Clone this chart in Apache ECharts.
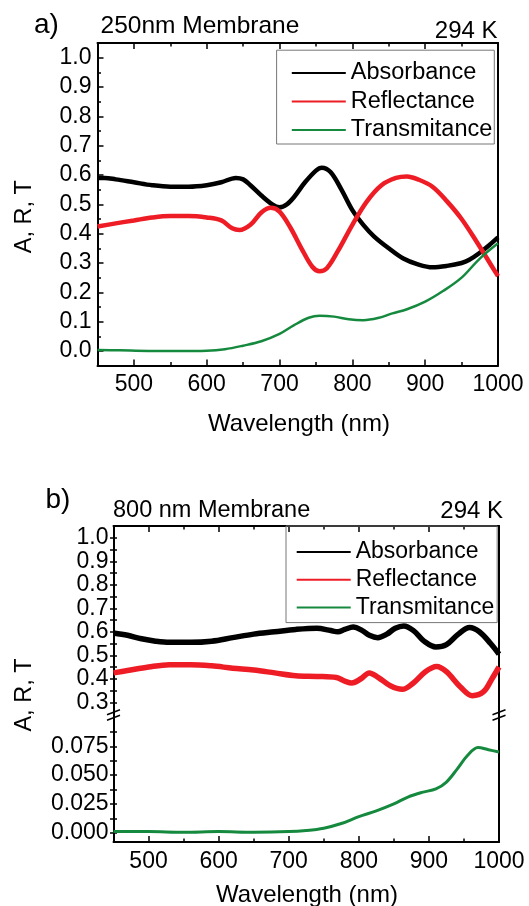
<!DOCTYPE html>
<html>
<head>
<meta charset="utf-8">
<script src="https://cdn.jsdelivr.net/npm/echarts@6/dist/echarts.min.js"></script>
<style>
html,body{margin:0;padding:0;background:#fff;}
#chart{width:529px;height:906px;}
</style>
</head>
<body>
<div id="chart"></div>
<script>
// ---------------- DATA ----------------
// Panel a) 250nm membrane
const wlAbsA   = [450,460,475,500,525,550,575,600,620,640,650,660,675,690,700,710,720,735,750,758,770,785,800,815,830,850,870,890,910,930,950,960,975,990,1000];
const absA     = [0.59,0.59,0.585,0.575,0.565,0.56,0.56,0.565,0.575,0.59,0.585,0.565,0.53,0.50,0.49,0.50,0.525,0.575,0.615,0.625,0.61,0.55,0.48,0.43,0.39,0.35,0.315,0.295,0.285,0.29,0.30,0.31,0.335,0.365,0.387];
const wlRefA   = [450,475,500,525,550,575,600,620,635,645,660,675,688,700,715,730,745,755,765,780,800,820,840,860,875,890,910,930,950,970,985,1000];
const refA     = [0.424,0.435,0.445,0.455,0.46,0.46,0.455,0.445,0.418,0.412,0.43,0.472,0.488,0.475,0.42,0.35,0.287,0.272,0.282,0.34,0.43,0.51,0.565,0.59,0.595,0.585,0.56,0.51,0.45,0.375,0.315,0.255];
const wlTraA   = [450,480,520,560,600,625,650,675,700,720,740,755,775,795,815,835,855,875,900,925,950,975,1000];
const traA     = [0.003,0.002,0.0,0.0,0.001,0.006,0.018,0.033,0.058,0.088,0.113,0.12,0.117,0.108,0.105,0.112,0.128,0.142,0.168,0.205,0.25,0.315,0.367];
// Panel b) 800 nm membrane
const wlAbsB   = [450,470,490,510,530,560,590,620,650,680,710,740,760,770,780,792,805,815,827,840,852,864,878,893,910,925,942,958,972,988,1000];
const absB     = [0.595,0.585,0.57,0.56,0.555,0.555,0.56,0.575,0.59,0.60,0.61,0.615,0.605,0.60,0.61,0.62,0.605,0.585,0.575,0.59,0.615,0.625,0.605,0.56,0.535,0.545,0.59,0.618,0.60,0.55,0.505];
const wlRefB   = [450,470,500,530,560,590,620,650,680,710,740,768,780,790,803,815,828,845,862,877,895,911,925,945,962,978,990,1000];
const refB     = [0.425,0.435,0.45,0.46,0.46,0.455,0.445,0.437,0.425,0.413,0.41,0.405,0.39,0.382,0.40,0.425,0.405,0.37,0.355,0.38,0.43,0.452,0.43,0.365,0.328,0.345,0.40,0.45];
const wlTraB   = [450,500,550,600,650,700,725,750,775,800,825,850,870,890,910,925,940,955,970,985,1000];
const traB     = [0.001,0.001,0.0005,0.001,0.0005,0.001,0.002,0.004,0.008,0.014,0.019,0.025,0.031,0.035,0.038,0.044,0.055,0.067,0.074,0.072,0.07];
// Tick values
const xMajor   = [500,600,700,800,900,1000];
const xMinor   = [550,650,750,850,950];
const yMajorA  = [0.0,0.1,0.2,0.3,0.4,0.5,0.6,0.7,0.8,0.9,1.0];
const yMinorA  = [0.05,0.15,0.25,0.35,0.45,0.55,0.65,0.75,0.85,0.95];
const yMajorB  = [0.3,0.4,0.5,0.6,0.7,0.8,0.9,1.0];
const yAllB    = [0.3,0.35,0.4,0.45,0.5,0.55,0.6,0.65,0.7,0.75,0.8,0.85,0.9,0.95,1.0];
const yMajorB2 = [0.0,0.025,0.05,0.075];
const yAllB2   = [0.0,0.0125,0.025,0.0375,0.05,0.0625,0.075,0.0875];
const seriesNames = ['Absorbance','Reflectance','Transmitance'];

// ---------------- LAYOUT ----------------
const FONT = '"Liberation Sans", Arial, Helvetica, sans-serif';
const G0 = {left:97.5, top:43, width:400.5, height:322.6};
const G1 = {left:113.5, top:526, width:385.5, height:188};
const G2 = {left:113.5, top:714, width:385.5, height:128};
const COLORS = ['#000000','#ee1c25','#158a3e'];

const lineSt = {color:'#000', width:2};
const tickSt = {color:'#000', width:1.5};
const lblSt = (fmt, margin) => ({fontFamily:FONT, fontSize:23, color:'#000', margin:margin, formatter:fmt});

function xAx(grid, pos, ticks, len, showLine, labels) {
  return {
    type:'value', gridIndex:grid, position:pos, min:450, max:1000,
    axisLine:{show:showLine, onZero:false, lineStyle:lineSt},
    axisTick:{show:true, inside:true, length:len, customValues:ticks, lineStyle:tickSt},
    axisLabel: labels ? Object.assign({show:true, customValues:ticks}, lblSt(v => String(Math.round(v)), 8)) : {show:false},
    splitLine:{show:false}
  };
}
function yAx(grid, pos, min, max, ticks, len, inside, showLine, labels, dec, margin) {
  return {
    type:'value', gridIndex:grid, position:pos, min:min, max:max,
    axisLine:{show:showLine, onZero:false, lineStyle:lineSt},
    axisTick:{show:ticks !== null, inside:inside, length:len, customValues:ticks || [], lineStyle:tickSt},
    axisLabel: labels ? Object.assign({show:true, customValues:labels}, lblSt(v => v.toFixed(dec), margin)) : {show:false},
    splitLine:{show:false}
  };
}

const xAxis = [
  xAx(0,'bottom',xMajor,6,true,true),   // 0
  xAx(0,'bottom',xMinor,3.5,false,false),
  xAx(0,'top',xMajor,6,true,false),
  xAx(0,'top',xMinor,3.5,false,false),
  xAx(1,'top',xMajor,6,true,false),     // 4
  xAx(1,'top',xMinor,3.5,false,false),
  xAx(2,'bottom',xMajor,6,true,true),   // 6
  xAx(2,'bottom',xMinor,3.5,false,false)
];
const yAxis = [
  yAx(0,'left',-0.05,1.05,yMajorA,6,true,true,yMajorA,1,6),     // 0
  yAx(0,'left',-0.05,1.05,yMinorA,3.5,true,false,null),
  yAx(0,'right',-0.05,1.05,null,0,true,true,null),
  yAx(1,'left',0.25,1.05,yAllB,3.5,true,true,yMajorB,1,5),      // 3
  yAx(1,'left',0.25,1.05,yAllB,3.5,false,false,null),
  yAx(1,'right',0.25,1.05,null,0,true,true,null),
  yAx(2,'left',-0.008,0.103,yAllB2,3.5,true,true,yMajorB2,3,5), // 6
  yAx(2,'left',-0.008,0.103,yAllB2,3.5,false,false,null),
  yAx(2,'right',-0.008,0.103,null,0,true,true,null)
];

function pairs(xs, ys){ return xs.map((x,i)=>[x, ys[i]]); }
function ser(name, xs, ys, xi, yi, color, w){
  return {name:name, type:'line', xAxisIndex:xi, yAxisIndex:yi, data:pairs(xs,ys),
    showSymbol:false, symbol:'none', smooth:0.35, color:color,
    lineStyle:{color:color, width:w}, silent:true, animation:false};
}
const series = [
  ser(seriesNames[0], wlAbsA, absA, 0, 0, COLORS[0], 4.5),
  ser(seriesNames[1], wlRefA, refA, 0, 0, COLORS[1], 4.5),
  ser(seriesNames[2], wlTraA, traA, 0, 0, COLORS[2], 2.5),
  ser(seriesNames[0], wlAbsB, absB, 4, 3, COLORS[0], 5.5),
  ser(seriesNames[1], wlRefB, refB, 4, 3, COLORS[1], 5.5),
  ser(seriesNames[2], wlTraB, traB, 6, 6, COLORS[2], 3)
];

function legend(left, top, pad, gap, fs){
  return {data:seriesNames, orient:'vertical', left:left, top:top, padding:pad, itemGap:gap,
    itemWidth:54, itemHeight:2, icon:'rect', borderColor:'#777', borderWidth:1,
    selectedMode:false, backgroundColor:'transparent',
    textStyle:{fontFamily:FONT, fontSize:fs, color:'#000', lineHeight:24}};
}

function txt(text, x, y, size, align, rot){
  return {type:'text', x:x, y:y, rotation:rot||0, silent:true,
    style:{text:text, font:size+'px '+FONT, fill:'#000', textAlign:align||'left', textVerticalAlign:'middle'}};
}
function brk(x, y){
  return [-2.7, 2.7].map(d => ({type:'line', silent:true,
    shape:{x1:x-6.5, y1:y+d+2.5, x2:x+6.5, y2:y+d-2.5},
    style:{stroke:'#000', lineWidth:1.5}}));
}

const graphic = [
  txt('a)', 34, 25, 28),
  txt('250nm Membrane', 100.5, 26, 24.5),
  txt('294 K', 497.5, 31, 24, 'right'),
  txt('A, R, T', 25, 216.7, 23.5, 'center', Math.PI/2),
  txt('Wavelength (nm)', 299, 424, 24, 'center'),
  txt('b)', 45.5, 500.5, 28),
  txt('800 nm Membrane', 113, 510.5, 23.5),
  txt('294 K', 503, 511, 24, 'right'),
  txt('A, R, T', 25, 695, 23.5, 'center', Math.PI/2),
  txt('Wavelength (nm)', 307, 895, 24, 'center')
].concat(brk(113.5, 715), brk(499, 715));

const chart = echarts.init(document.getElementById('chart'), null, {renderer:'canvas', width:529, height:906});
chart.setOption({
  animation:false,
  backgroundColor:'#ffffff',
  grid:[Object.assign({outerBoundsMode:'none'},G0), Object.assign({outerBoundsMode:'none'},G1), Object.assign({outerBoundsMode:'none'},G2)],
  xAxis:xAxis,
  yAxis:yAxis,
  legend:[
    legend(276.6, 50.2, [10.8,2,2,15.2], 4.5, 23.5),
    legend(286, 526, [14,3,3,10.7], 3.8, 23)
  ],
  series:series,
  graphic:graphic
});
</script>
</body>
</html>
